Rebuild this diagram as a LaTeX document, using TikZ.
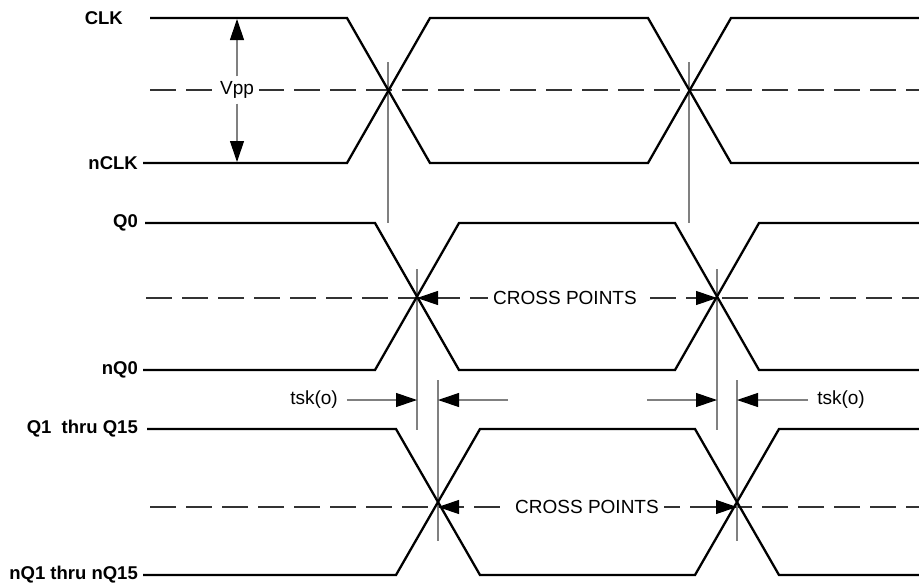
\documentclass[tikz,border=0pt]{standalone}
\usepackage{fontspec}
\setmainfont{Liberation Sans}
\usetikzlibrary{arrows.meta}
\begin{document}
\begin{tikzpicture}[x=1pt,y=-1pt,
  wave/.style={line width=2.3pt,line join=miter,black},
  mid/.style={line width=1.3pt,color=black!80,dash pattern=on 26pt off 10pt},
  guide/.style={line width=1.1pt,color=black!50},
  ptr/.style={line width=1.1pt,color=black!50,-{Triangle[length=21pt,width=14pt,color=black]}},
  sig/.style={font=\fontsize{18.5}{20}\selectfont\bfseries,inner sep=0pt,anchor=east},
  lbl/.style={font=\fontsize{19}{21}\selectfont,fill=white,inner sep=5pt}]
\useasboundingbox (0,0) rectangle (919,584);
% named crossing points
\coordinate (c1) at (388,90);  \coordinate (c2) at (689,90);
\coordinate (q1) at (417,298); \coordinate (q2) at (717,298);
\coordinate (r1) at (438,507); \coordinate (r2) at (737,507);
% signal labels
\node[sig] (clk) at (123,18) {CLK};
\node[sig] (nclk) at (138,163) {nCLK};
\node[sig] (q0) at (138,223) {Q0};
\node[sig] (nq0) at (138,370) {nQ0};
\node[sig] (qx) at (138,429) {Q1\ \ thru Q15};
\node[sig] (nqx) at (138,575) {nQ1 thru nQ15};
% dashed midlines
\draw[mid] (150,90) -- (919,90);
\draw[mid] (146,298) -- (919,298);
\draw[mid] (150,507) -- (919,507);
% guide verticals
\draw[guide] (388,62) -- (388,223);
\draw[guide] (689,62) -- (689,223);
\draw[guide] (417,269) -- (417,430);
\draw[guide] (717,269) -- (717,430);
\draw[guide] (438,380) -- (438,541);
\draw[guide] (737,380) -- (737,541);
% waveforms
\draw[wave] (150,18) -- (347,18) -- (430,163) -- (648,163) -- (731,18) -- (919,18);
\draw[wave] (143,163) -- (347,163) -- (430,18) -- (648,18) -- (731,163) -- (919,163);
\draw[wave] (145,223) -- (375,223) -- (459,370) -- (675,370) -- (759,223) -- (919,223);
\draw[wave] (143,370) -- (375,370) -- (459,223) -- (675,223) -- (759,370) -- (919,370);
\draw[wave] (147,429) -- (396,429) -- (480,575) -- (695,575) -- (779,429) -- (919,429);
\draw[wave] (143,575) -- (396,575) -- (480,429) -- (695,429) -- (779,575) -- (919,575);
% Vpp
\coordinate (vt) at (237,19); \coordinate (vb) at (237,162);
\node[lbl] (vpp) at (237,90) {Vpp};
\draw[ptr] (vpp.north) -- (vt);
\draw[ptr] (vpp.south) -- (vb);
% cross points
\node[lbl] (cp1) at (565,298) {CROSS POINTS};
\draw[ptr,color=black!80] ([xshift=24pt]q1) -- (q1);
\draw[ptr,color=black!80] ([xshift=-24pt]q2) -- (q2);
\node[lbl] (cp2) at (587,507) {CROSS POINTS};
\draw[ptr,color=black!80] ([xshift=24pt]r1) -- (r1);
\draw[ptr,color=black!80] ([xshift=-24pt]r2) -- (r2);
% tsk(o)
\coordinate (t1) at (417,400); \coordinate (t2) at (438,400);
\coordinate (t3) at (717,400); \coordinate (t4) at (737,400);
\node[font=\fontsize{19}{21}\selectfont,inner sep=0pt] (tsk1) at (314,400) {tsk(o)};
\node[font=\fontsize{19}{21}\selectfont,inner sep=0pt] (tsk2) at (841,400) {tsk(o)};
\coordinate (e1) at (508,400); \coordinate (e2) at (647,400);
\draw[ptr] ([xshift=9pt]tsk1.east) -- (t1);
\draw[ptr] (e1) -- (t2);
\draw[ptr] (e2) -- (t3);
\draw[ptr] ([xshift=-9pt]tsk2.west) -- (t4);
\end{tikzpicture}
\end{document}
